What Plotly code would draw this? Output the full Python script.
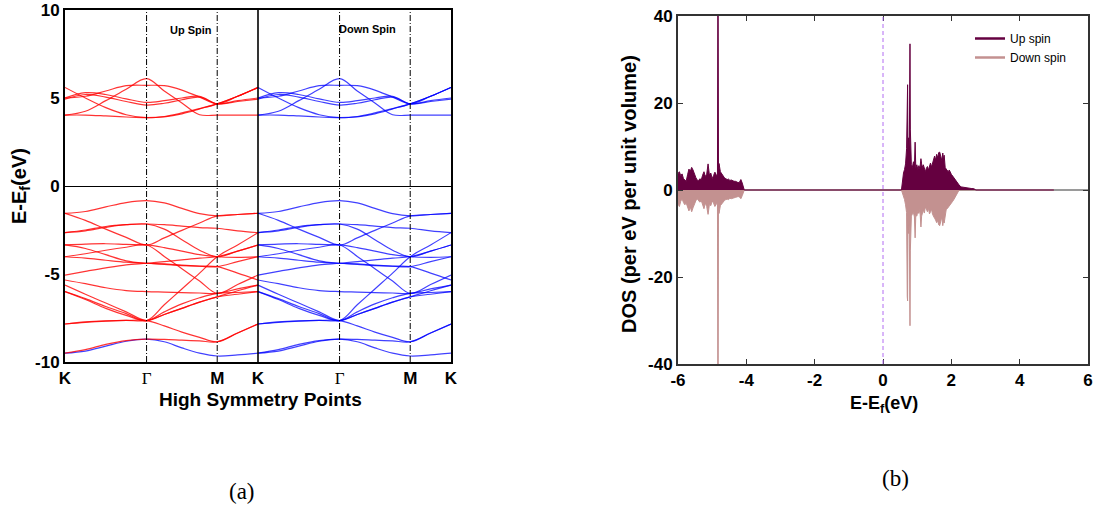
import plotly.graph_objects as go

# ---------------- Band structure data (panel a) ----------------
k_path = [0, 0.25, 0.5, 0.75, 1.0, 1.217, 1.433, 1.65, 1.866, 2.116, 2.366]
k_sym = [0, 1.0, 1.866, 2.366]
k_labels = ["K", "Γ", "M", "K"]
E_ticks = [-10, -5, 0, 5, 10]
E_tick_text = ["-10", "-5", "0", "5", "10"]

cond_bands = [
    [4.03, 4.25, 4.85, 5.5, 6.1, 5.4, 4.72, 4.05, 4.03, 4.03, 4.03],
    [5.6, 5.0, 4.45, 4.05, 3.88, 3.95, 4.15, 4.4, 4.67, 5.1, 5.6],
    [4.03, 4.03, 3.98, 3.92, 3.88, 3.93, 4.1, 4.38, 4.67, 5.1, 5.6],
    [5.0, 5.3, 5.2, 4.95, 4.75, 4.85, 5.0, 5.1, 4.67, 4.85, 5.0],
    [4.94, 5.2, 5.05, 4.8, 4.6, 4.7, 4.9, 5.05, 4.67, 4.8, 4.94],
    [5.0, 5.1, 5.4, 5.7, 5.72, 5.7, 5.45, 5.05, 4.67, 5.1, 5.6],
]

val_bands = [
    [-1.55, -1.45, -1.19, -0.94, -0.83, -0.96, -1.27, -1.57, -1.7, -1.62, -1.55],
    [-1.55, -1.95, -2.45, -2.92, -3.35, -2.95, -2.52, -2.1, -1.7, -1.62, -1.55],
    [-2.65, -2.5, -2.3, -2.2, -2.16, -2.2, -2.28, -2.36, -2.4, -2.55, -2.65],
    [-2.65, -2.55, -2.35, -2.2, -2.16, -2.45, -3.05, -3.65, -4.02, -3.7, -3.35],
    [-3.35, -3.3, -3.28, -3.32, -3.35, -3.5, -3.7, -3.9, -4.02, -4.05, -4.02],
    [-3.35, -3.55, -3.9, -4.25, -4.39, -4.45, -4.52, -4.56, -4.58, -4.3, -4.02],
    [-4.02, -3.85, -3.65, -3.48, -3.35, -4.0, -4.7, -5.4, -6.1, -5.6, -5.06],
    [-4.02, -4.1, -4.22, -4.33, -4.39, -4.43, -4.5, -4.55, -4.58, -4.95, -5.34],
    [-5.06, -4.85, -4.65, -4.48, -4.39, -4.3, -4.2, -4.1, -4.02, -3.7, -3.35],
    [-5.34, -5.55, -5.78, -5.94, -6.0, -6.03, -6.06, -6.08, -6.1, -5.85, -5.63],
    [-5.63, -6.15, -6.65, -7.15, -7.65, -7.3, -6.95, -6.6, -6.3, -6.15, -6.0],
    [-6.0, -6.4, -6.85, -7.25, -7.65, -6.75, -5.85, -4.95, -4.02, -3.35, -2.65],
    [-7.84, -7.72, -7.66, -7.64, -7.65, -7.3, -6.95, -6.6, -6.3, -5.95, -5.63],
    [-7.84, -7.75, -7.68, -7.64, -7.65, -7.95, -8.3, -8.6, -8.85, -8.35, -7.84],
    [-9.5, -9.3, -9.0, -8.78, -8.7, -8.72, -8.76, -8.8, -8.85, -8.35, -7.84],
    [-6.0, -6.45, -6.95, -7.35, -7.65, -7.15, -6.7, -6.35, -6.1, -6.05, -6.0],
]
# lowest band, drawn in blue in both panels
low_band = [-9.5, -9.38, -9.1, -8.82, -8.7, -8.85, -9.2, -9.5, -9.66, -9.6, -9.5]

# ---------------- DOS data (panel b) ----------------
E_val = [-6.00, -5.96, -5.92, -5.88, -5.84, -5.80, -5.76, -5.72, -5.68, -5.64,
         -5.60, -5.56, -5.52, -5.48, -5.44, -5.40, -5.36, -5.32, -5.28, -5.24,
         -5.20, -5.16, -5.12, -5.08, -5.04, -5.00, -4.96, -4.92, -4.88, -4.845,
         -4.83, -4.815, -4.80, -4.76, -4.72, -4.68, -4.64, -4.60, -4.56, -4.52,
         -4.48, -4.44, -4.40, -4.36, -4.32, -4.28, -4.24, -4.20, -4.16, -4.12,
         -4.09, -4.06]
up_val = [3.8, 4.2, 3.3, 3.7, 2.6, 2.2, 2.0, 3.5, 4.8, 4.3,
          5.2, 4.6, 3.6, 2.9, 2.3, 2.1, 2.6, 2.3, 3.4, 4.2,
          3.1, 3.6, 6.0, 3.4, 3.9, 2.6, 3.3, 4.1, 3.5, 3.2,
          60.0, 4.0, 6.1, 4.2, 3.7, 3.1, 2.8, 2.6, 2.4, 2.5,
          2.2, 2.3, 2.1, 2.0, 2.0, 1.9, 1.7, 1.8, 2.4, 1.6,
          0.8, 0.0]
dn_val = [-3.2, -3.8, -2.6, -2.0, -2.9, -3.4, -3.0, -4.2, -4.8, -3.9,
          -5.0, -4.1, -3.2, -2.5, -2.0, -2.3, -2.8, -2.4, -3.6, -4.3,
          -3.0, -3.8, -5.6, -3.3, -3.6, -2.5, -3.0, -3.8, -3.3, -3.0,
          -60.0, -3.6, -5.4, -3.6, -3.2, -2.7, -2.4, -2.2, -2.1, -2.2,
          -1.9, -2.0, -1.8, -1.8, -1.7, -1.6, -1.5, -1.6, -2.0, -1.3,
          -0.6, 0.0]

E_cond = [0.54, 0.57, 0.60, 0.63, 0.66, 0.69, 0.71, 0.72, 0.73, 0.75,
          0.77, 0.78, 0.79, 0.80, 0.81, 0.83, 0.86, 0.89, 0.92, 0.94,
          0.96, 0.99, 1.02, 1.05, 1.08, 1.11, 1.13, 1.15, 1.18, 1.21,
          1.24, 1.27, 1.30, 1.33, 1.36, 1.39, 1.42, 1.45, 1.48, 1.51,
          1.54, 1.57, 1.60, 1.63, 1.66, 1.69, 1.72, 1.75, 1.77, 1.79,
          1.82, 1.85, 1.88, 1.91, 1.94, 1.97, 2.00, 2.04, 2.08, 2.12,
          2.16, 2.20, 2.25, 2.30, 2.36, 2.42, 2.50, 2.58, 2.66, 2.72]
up_cond = [0.0, 2.5, 3.9, 4.7, 6.0, 9.5, 23.5, 24.2, 9.0, 12.0,
           9.5, 30.0, 33.6, 14.0, 6.6, 5.8, 5.2, 6.5, 5.5, 11.0,
           5.0, 5.8, 4.7, 5.6, 4.9, 7.2, 6.0, 5.2, 5.8, 4.9,
           4.2, 5.0, 5.4, 4.6, 5.6, 6.2, 5.3, 6.0, 6.8, 7.8,
           6.9, 8.2, 7.4, 8.6, 8.7, 7.6, 6.8, 8.5, 7.0, 8.0,
           5.2, 4.8, 4.5, 4.2, 4.6, 4.0, 3.6, 3.2, 2.8, 2.2,
           1.8, 1.4, 0.9, 0.7, 0.6, 0.5, 0.4, 0.35, 0.3, 0.0]
dn_cond = [0.0, -0.7, -1.5, -2.2, -3.4, -5.2, -24.5, -25.5, -9.0, -10.0,
           -8.0, -29.0, -31.2, -14.0, -8.5, -6.0, -5.5, -5.2, -6.2, -11.0,
           -5.8, -6.0, -4.8, -5.4, -4.5, -8.5, -6.0, -5.0, -4.6, -5.3,
           -3.9, -4.4, -5.0, -4.2, -5.5, -5.0, -4.4, -5.6, -6.2, -6.5,
           -6.9, -7.5, -7.0, -8.0, -8.2, -6.8, -6.2, -8.2, -6.9, -7.6,
           -5.4, -4.5, -4.3, -4.0, -3.8, -3.5, -3.0, -2.6, -2.1, -1.5,
           -1.0, -0.4, 0.0, 0.0, 0.0, 0.0, 0.0, 0.0, 0.0, 0.0]
E_tail = [5.0]
dos_tail = [0.0]
E_dos_ticks = [-6, -4, -2, 0, 2, 4, 6]
E_dos_text = ["-6", "-4", "-2", "0", "2", "4", "6"]
dos_ticks = [-40, -20, 0, 20, 40]
dos_text = ["-40", "-20", "0", "20", "40"]

E_fermi = 0.0

# ---------------- Styles / geometry ----------------
RED = "rgba(255,0,0,0.8)"
BLUE = "rgba(0,0,255,0.75)"
UP_COL = "#650040"
DN_COL = "#c39190"
W, H = 1099, 512
SANS = "Liberation Sans"
SERIF = "Liberation Serif"


def px(xp):
    return xp / W


def py(yp):
    return 1 - yp / H


fig = go.Figure()

shift = k_path[-1]
k_dn = [k + shift for k in k_path]

fig.add_trace(go.Scatter(x=k_path, y=low_band, mode="lines", showlegend=False,
                         line=dict(color=BLUE, width=1.2, shape="spline"),
                         xaxis="x", yaxis="y", hoverinfo="skip"))
for b in cond_bands + val_bands:
    fig.add_trace(go.Scatter(x=k_path, y=b, mode="lines", showlegend=False,
                             line=dict(color=RED, width=1.2, shape="spline"),
                             xaxis="x", yaxis="y", hoverinfo="skip"))
for b in cond_bands + val_bands + [low_band]:
    fig.add_trace(go.Scatter(x=k_dn, y=b, mode="lines", showlegend=False,
                             line=dict(color=BLUE, width=1.2, shape="spline"),
                             xaxis="x", yaxis="y", hoverinfo="skip"))

# DOS
E_all = E_val + E_cond + E_tail
up_all = up_val + up_cond + dos_tail
dn_all = dn_val + dn_cond + dos_tail
fig.add_trace(go.Scatter(x=E_all, y=dn_all, mode="lines", fill="tozeroy",
                         fillcolor=DN_COL, line=dict(color=DN_COL, width=1),
                         showlegend=False, xaxis="x2", yaxis="y2"))
fig.add_trace(go.Scatter(x=E_all, y=up_all, mode="lines", fill="tozeroy",
                         fillcolor=UP_COL, line=dict(color=UP_COL, width=1),
                         showlegend=False, xaxis="x2", yaxis="y2"))
fig.add_trace(go.Scatter(x=[None], y=[None], mode="lines", name="Up spin",
                         line=dict(color=UP_COL, width=2.5), xaxis="x2", yaxis="y2"))
fig.add_trace(go.Scatter(x=[None], y=[None], mode="lines", name="Down spin",
                         line=dict(color=DN_COL, width=2.5), xaxis="x2", yaxis="y2"))

tick_k = k_sym + [k + shift for k in k_sym[1:]]
tick_txt = []
for lab in k_labels + k_labels[1:]:
    if lab == "Γ":
        tick_txt.append("<span style='font-family:Liberation Serif;font-weight:normal'>Γ</span>")
    else:
        tick_txt.append(lab)

tickfont = dict(family=SANS, size=17, color="black", weight="bold")

fig.update_layout(
    template="none",
    width=W, height=H, autosize=False,
    margin=dict(l=0, r=0, t=0, b=0, pad=0, autoexpand=False),
    paper_bgcolor="white", plot_bgcolor="white",
    xaxis=dict(domain=[px(65), px(451)], range=[0, 2 * shift], anchor="y",
               tickvals=tick_k, ticktext=tick_txt, ticks="", showgrid=False,
               zeroline=False, showline=True, mirror=True, linecolor="black",
               linewidth=2, tickfont=tickfont, automargin=False,
               ticklabeloverflow="allow"),
    yaxis=dict(domain=[py(362), py(10)], range=[-10, 10], anchor="x",
               tickvals=E_ticks, ticktext=E_tick_text, ticks="", showgrid=False,
               zeroline=True, zerolinecolor="black", zerolinewidth=1.2,
               showline=True, mirror=True, linecolor="black", linewidth=2,
               tickfont=tickfont, automargin=False, ticklabeloverflow="allow"),
    xaxis2=dict(domain=[px(678), px(1088)], range=[-6, 6], anchor="y2",
                tickvals=E_dos_ticks, ticktext=E_dos_text, ticks="inside", ticklen=5,
                tickcolor="#333", showgrid=False, zeroline=False, showline=True,
                mirror="ticks", linecolor="#333", linewidth=2, tickfont=tickfont,
                automargin=False, ticklabeloverflow="allow"),
    yaxis2=dict(domain=[py(364), py(16)], range=[-40, 40], anchor="x2",
                tickvals=dos_ticks, ticktext=dos_text, ticks="inside", ticklen=5,
                tickcolor="#333", showgrid=False, zeroline=True,
                zerolinecolor="#9a9a9a", zerolinewidth=1.5, showline=True,
                mirror="ticks", linecolor="#333", linewidth=2, tickfont=tickfont,
                automargin=False, ticklabeloverflow="allow"),
    legend=dict(x=px(970), y=py(24), xanchor="left", yanchor="top",
                bgcolor="rgba(0,0,0,0)", borderwidth=0,
                font=dict(family=SANS, size=12, color="black"),
                itemwidth=30, tracegroupgap=0),
)

shapes = []
for kx in [k_sym[1], k_sym[2], k_sym[1] + shift, k_sym[2] + shift]:
    shapes.append(dict(type="line", xref="x", yref="y", x0=kx, x1=kx, y0=-10, y1=10,
                       line=dict(color="black", width=1, dash="6px,2px,1px,2px"), layer="above"))
shapes.append(dict(type="line", xref="x", yref="y", x0=shift, x1=shift, y0=-10, y1=10,
                   line=dict(color="black", width=1.6), layer="above"))
shapes.append(dict(type="line", xref="x2", yref="y2", x0=E_fermi, x1=E_fermi, y0=-40, y1=40,
                   line=dict(color="#b26cf2", width=1, dash="4px,3px"), layer="above"))
fig.update_layout(shapes=shapes)


def note(text, x, y, size, family=SANS, angle=0, xref="paper", yref="paper"):
    return dict(text=text, x=x, y=y, xref=xref, yref=yref, showarrow=False,
                xanchor="center", yanchor="middle", textangle=angle,
                font=dict(family=family, size=size, color="black"))


ann = [
    note("<b>Up Spin</b>", 1.55, 8.85, 11, xref="x", yref="y"),
    note("<b>Down Spin</b>", shift + 1.34, 8.92, 11, xref="x", yref="y"),
    note("<b>E-E<sub>f</sub>(eV)</b>", px(20), py(186), 20, angle=-90),
    note("<b>High Symmetry Points</b>", px(260), py(399), 19),
    note("<b>DOS (per eV per unit volume)</b>", px(629), py(194), 20, angle=-90),
    note("<b>E-E<sub>f</sub>(eV)</b>", px(884), py(404), 18),
    note("(a)", px(242), py(491), 23, family=SERIF),
    note("(b)", px(895), py(478), 23, family=SERIF),
]
fig.update_layout(annotations=ann)

fig.write_html("out.html", config={"displayModeBar": False},
               post_script="document.body.style.margin='0';document.body.style.overflow='hidden';")
